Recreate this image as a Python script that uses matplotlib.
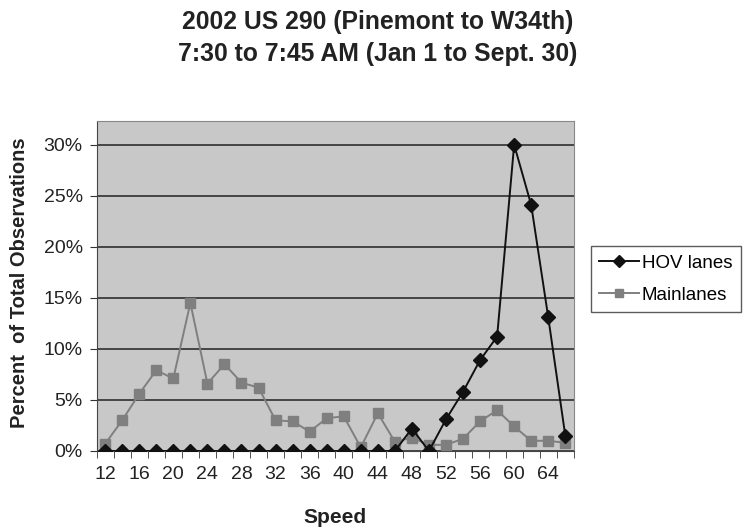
import matplotlib
matplotlib.use("Agg")
import matplotlib.pyplot as plt
from matplotlib.ticker import FuncFormatter, MultipleLocator

# dados
velocidade = list(range(12, 68, 2))
hov_lanes = [0, 0, 0, 0, 0, 0, 0, 0, 0, 0, 0, 0, 0, 0, 0, 0, 0, 0,
             2.2, 0, 3.1, 5.8, 8.9, 11.2, 30.0, 24.1, 13.1, 1.5]
mainlanes = [0.7, 3.0, 5.6, 7.9, 7.1, 14.5, 6.6, 8.5, 6.7, 6.2, 3.0, 2.9, 1.9, 3.2,
             3.4, 0.35, 3.7, 0.9, 1.3, 0.6, 0.6, 1.2, 2.9, 4.0, 2.4, 1.0, 1.0, 0.8]
rotulos_x = list(range(12, 66, 4))
titulo_1 = "2002 US 290 (Pinemont to W34th)"
titulo_2 = "7:30 to 7:45 AM (Jan 1 to Sept. 30)"

plt.rcParams['font.family'] = ['Liberation Sans', 'DejaVu Sans']

fig = plt.figure(figsize=(7.55, 5.31), dpi=100)
ax = fig.add_axes([0.128, 0.1507, 0.632, 0.621])
ax.set_facecolor("#c8c8c8")

ax.plot(velocidade, hov_lanes, color="#111111", lw=1.4, marker="D", ms=7,
        label="HOV lanes", zorder=4)
ax.plot(velocidade, mainlanes, color="#7f7f7f", lw=1.4, marker="s", ms=7,
        label="Mainlanes", zorder=3)

ax.set_xlim(11, 67)
ax.set_ylim(0, 32.3)
ax.set_yticks([0, 5, 10, 15, 20, 25, 30])
ax.yaxis.set_major_formatter(FuncFormatter(lambda v, p: f"{int(v)}%"))
ax.grid(axis="y", color="#222222", lw=1.1)
ax.set_axisbelow(True)

ax.set_xticks(rotulos_x)
ax.xaxis.set_minor_locator(MultipleLocator(2, offset=1))
ax.tick_params(axis="x", which="major", length=0, pad=11, labelsize=14, labelcolor="#222222")
ax.tick_params(axis="x", which="minor", length=5, direction="out", color="#333333")
ax.tick_params(axis="y", length=5, pad=5, labelsize=14, color="#333333", labelcolor="#222222")

for lado in ["left", "bottom"]:
    ax.spines[lado].set_color("#444444")
for lado in ["top", "right"]:
    ax.spines[lado].set_color("#888888")

ax.set_xlabel("Speed", fontsize=15, fontweight="bold", color="#222222", va="center")
ax.xaxis.set_label_coords(0.5, -0.203)
ax.set_ylabel("Percent  of Total Observations", fontsize=14.5, fontweight="bold",
              color="#222222", va="center")
ax.yaxis.set_label_coords(-0.161, 0.51)

fig.text(0.5, 1 - 21.5 / 531, titulo_1, ha="center", va="center", fontsize=17.8,
         fontweight="bold", color="#222222")
fig.text(0.5, 1 - 53.5 / 531, titulo_2, ha="center", va="center", fontsize=17.8,
         fontweight="bold", color="#222222")

leg = ax.legend(loc="center left", bbox_to_anchor=(591 / 755, 1 - 279 / 531),
                bbox_transform=fig.transFigure, fontsize=13.5, frameon=True,
                fancybox=False, edgecolor="#333333", handlelength=2.1,
                handletextpad=0.15, borderpad=0.45, labelspacing=0.8,
                borderaxespad=0, markerscale=0.85)
leg.get_frame().set_linewidth(1.0)

fig.savefig("out.png", dpi=100)
